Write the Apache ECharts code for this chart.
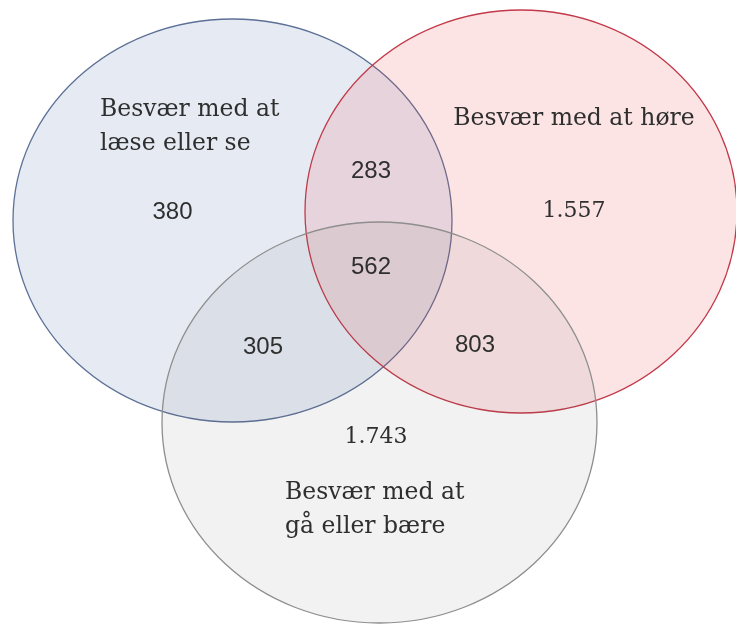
<!DOCTYPE html>
<html>
<head>
<meta charset="utf-8">
<script src="https://cdn.jsdelivr.net/npm/echarts@6/dist/echarts.min.js"></script>
<style>html,body{margin:0;padding:0;background:#fff}#c{width:736px;height:626px}</style>
</head>
<body>
<div id="c"></div>
<script>
// Sets (ellipses): centre x, centre y, radius x, radius y in chart units
const setNames = ['Besvær med at\nlæse eller se', 'Besvær med at høre', 'Besvær med at\ngå eller bære'];
const setCx = [232.5, 521, 379.5];
const setCy = [220.5, 211.5, 422.5];
const setRx = [219.5, 216, 217.5];
const setRy = [201.5, 201.5, 200.5];
const setLabelX = [100, 574, 285];
const setLabelY = [126.5, 119, 510];

// Region counts
const regionNames = ['Kun læse/se', 'Læse/se + høre', 'Kun høre', 'Alle tre', 'Læse/se + gå/bære', 'Høre + gå/bære', 'Kun gå/bære'];
const regionValues = [380, 283, 1557, 562, 305, 803, 1743];
const regionX = [172.5, 371, 574, 371, 263, 475, 376];
const regionY = [212, 171, 211, 267, 347, 345, 437];

const fills = ['rgba(79,110,170,0.14)', 'rgba(232,62,72,0.14)', 'rgba(90,90,90,0.08)'];
const strokes = ['#5d7096', '#c23a4a', '#8e8e8e'];
const labelAlign = ['left', 'center', 'left'];

function fmt(v) { return String(v).replace(/\B(?=(\d{3})+(?!\d))/g, '.'); }

const chart = echarts.init(document.getElementById('c'), null, {renderer: 'canvas'});
const ellipseData = setCx.map((x, i) => [x, setCy[i], setRx[i], setRy[i]]);
const regionData = regionValues.map((v, i) => [regionX[i], regionY[i], v]);
const setLabelData = setNames.map((n, i) => [setLabelX[i], setLabelY[i], n]);

chart.setOption({
  animation: false,
  grid: {left: 0, right: 0, top: 0, bottom: 0},
  xAxis: {type: 'value', min: 0, max: 736, show: false},
  yAxis: {type: 'value', min: 0, max: 626, inverse: true, show: false},
  series: [
    {
      type: 'custom',
      data: ellipseData,
      renderItem: function (params, api) {
        const i = params.dataIndex;
        const c = api.coord([api.value(0), api.value(1)]);
        const s = api.size([api.value(2), api.value(3)]);
        return {
          type: 'ellipse',
          shape: {cx: c[0], cy: c[1], rx: s[0], ry: s[1]},
          style: {fill: fills[i], stroke: strokes[i], lineWidth: 1.3}
        };
      }
    },
    {
      type: 'custom',
      data: regionData,
      z: 5,
      renderItem: function (params, api) {
        const c = api.coord([api.value(0), api.value(1)]);
        const v = api.value(2);
        return {
          type: 'text',
          x: c[0], y: c[1],
          style: {
            text: fmt(v),
            fill: '#2f2f2f',
            font: v >= 1000 ? '22px "DejaVu Serif"' : '24px "Liberation Sans"',
            align: 'center', verticalAlign: 'middle'
          }
        };
      }
    },
    {
      type: 'custom',
      data: setLabelData,
      z: 5,
      renderItem: function (params, api) {
        const i = params.dataIndex;
        const c = api.coord([api.value(0), api.value(1)]);
        return {
          type: 'text',
          x: c[0], y: c[1],
          style: {
            text: setNames[i],
            fill: '#2f2f2f',
            font: '23.5px "DejaVu Serif"',
            lineHeight: 34,
            align: labelAlign[i], verticalAlign: 'middle'
          }
        };
      }
    }
  ]
});
</script>
</body>
</html>
